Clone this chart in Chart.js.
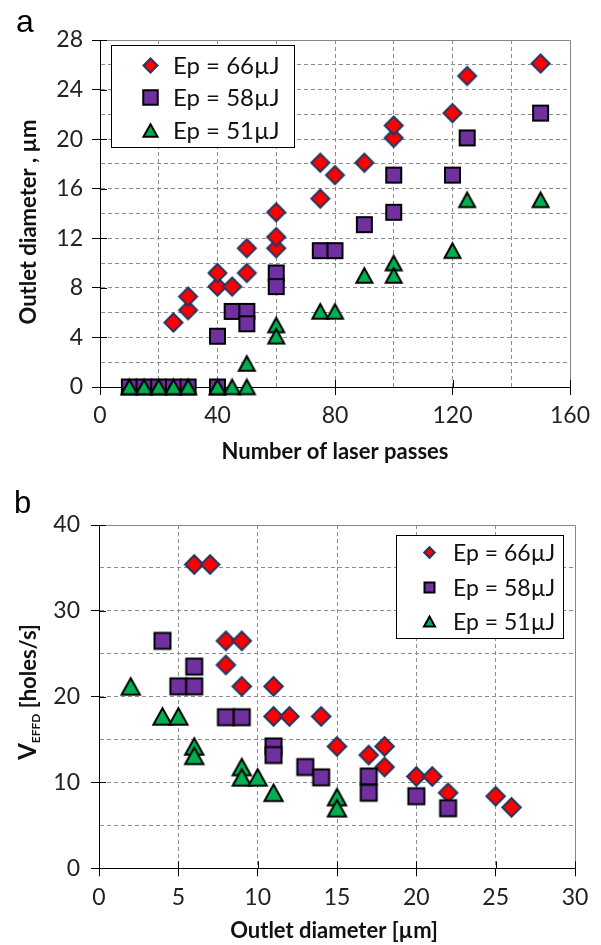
<!DOCTYPE html>
<html><head><meta charset="utf-8">
<script src="https://cdn.jsdelivr.net/npm/chart.js@4.4.1/dist/chart.umd.min.js"></script>
<style>
html,body{margin:0;padding:0;background:#fff;}
body{width:601px;height:945px;position:relative;overflow:hidden;}
.box{position:absolute;left:0;width:601px;}
#boxA{top:0;height:470px;}
#boxB{top:470px;height:475px;}
</style></head><body>
<div class="box" id="boxA"><canvas id="cA"></canvas></div>
<div class="box" id="boxB"><canvas id="cB"></canvas></div>
<script>
// ---------- data (panel a: outlet diameter vs number of laser passes) ----------
const seriesNames = ['Ep = 66µJ', 'Ep = 58µJ', 'Ep = 51µJ'];
const aX66 = [25,30,30,40,40,45,50,50,60,60,60,75,75,80,90,100,100,120,125,150];
const aY66 = [5.2,6.2,7.3,8.1,9.2,8.1,9.2,11.2,11.2,12.1,14.1,15.2,18.1,17.1,18.1,20.1,21.1,22.1,25.1,26.1];
const aX58 = [10,15,20,25,30,40,40,45,50,50,60,60,75,80,90,100,100,120,125,150];
const aY58 = [0,0,0,0,0,0,4.1,6.1,6.1,5.1,9.2,8.1,11,11,13.1,17.1,14.1,17.1,20.1,22.1];
const aX51 = [10,15,20,25,30,40,45,50,50,60,60,75,80,90,100,100,120,125,150];
const aY51 = [0,0,0,0,0,0,0,0,1.9,5,4.1,6.1,6.1,9,10,9,11,15.1,15.1];
const aXTicks = [0,40,80,120,160];
const aYTicks = [0,4,8,12,16,20,24,28];

// ---------- data (panel b: V_EFFD vs outlet diameter) ----------
const bX66 = [6,7,8,9,8,9,11,11,12,14,15,17,18,18,20,21,22,25,26];
const bY66 = [35.4,35.4,26.5,26.5,23.7,21.2,21.2,17.7,17.7,17.7,14.2,13.2,14.2,11.8,10.7,10.7,8.8,8.4,7.1];
const bX58 = [4,6,5,6,8,9,11,11,13,14,17,17,20,22];
const bY58 = [26.5,23.5,21.2,21.2,17.6,17.6,14.2,13.2,11.8,10.6,10.7,8.8,8.4,7.0];
const bX51 = [2,4,5,6,6,9,9,10,11,15,15];
const bY51 = [21.2,17.7,17.7,14.2,13.1,11.8,10.6,10.6,8.8,8.3,7.0];
const bXTicks = [0,5,10,15,20,25,30];
const bYTicks = [0,10,20,30,40];

const pts = (xs, ys) => xs.map((v, i) => ({x: v, y: ys[i]}));

// ---------- marker images ----------
function marker(kind, s, th, fill, stroke) {
  const pad = 4, S = (Math.ceil(s + 2 * pad)) | 1;
  const c = document.createElement('canvas'); c.width = S; c.height = S;
  const g = c.getContext('2d'); const m = S / 2, h = s / 2;
  g.beginPath();
  if (kind === 'd') { g.moveTo(m, m - h); g.lineTo(m + h, m); g.lineTo(m, m + h); g.lineTo(m - h, m); }
  else if (kind === 's') { g.rect(m - h, m - h, s, s); }
  else { g.moveTo(m, m - th / 2); g.lineTo(m + h, m + th / 2); g.lineTo(m - h, m + th / 2); }
  g.closePath();
  g.fillStyle = fill; g.fill();
  g.lineWidth = 2; g.lineJoin = 'miter'; g.strokeStyle = stroke; g.stroke();
  return c;
}
const RED = '#FF0000', PUR = '#7030A0', GRN = '#00B050', NAVY = '#1F3864', BLK = '#000000';
const mA = [marker('d', 18, 0, RED, NAVY), marker('s', 15, 0, PUR, BLK), marker('t', 16, 14.7, GRN, BLK)];
const mB = [marker('d', 18.5, 0, RED, NAVY), marker('s', 16, 0, PUR, BLK), marker('t', 18.3, 16.5, GRN, BLK)];
const lA = [marker('d', 14, 0, RED, NAVY), marker('s', 14.5, 0, PUR, BLK), marker('t', 14, 12.5, GRN, BLK)];
const lB = [marker('d', 10.5, 0, RED, NAVY), marker('s', 10, 0, PUR, BLK), marker('t', 11, 10, GRN, BLK)];

// ---------- decoration plugin: frame, crossing ticks, legend, titles ----------
const deco = {
  id: 'deco',
  beforeDatasetsDraw(chart, _a, o) {
    const {ctx, chartArea: a} = chart; const xs = chart.scales.x, ys = chart.scales.y;
    ctx.save();
    ctx.lineWidth = 1;
    ctx.strokeStyle = '#868686';
    const T = Math.round(a.top) + 0.5, R = Math.round(a.right) + 0.5;
    ctx.beginPath(); ctx.moveTo(a.left, T); ctx.lineTo(R, T); ctx.lineTo(R, a.bottom); ctx.stroke();
    ctx.strokeStyle = '#000';
    ctx.beginPath();
    o.xMajor.forEach(v => { const p = Math.round(xs.getPixelForValue(v)) + 0.5; ctx.moveTo(p, a.bottom); ctx.lineTo(p, a.bottom - 7); });
    o.yMajor.forEach(v => { const p = Math.round(ys.getPixelForValue(v)) + 0.5; ctx.moveTo(a.left, p); ctx.lineTo(a.left + 7, p); });
    ctx.stroke();
    ctx.restore();
  },
  afterDraw(chart, _a, o) {
    const ctx = chart.ctx; ctx.save();
    const L = o.legend;
    ctx.fillStyle = '#fff'; ctx.fillRect(L.x, L.y, L.w, L.h);
    ctx.strokeStyle = '#000'; ctx.lineWidth = 1; ctx.strokeRect(L.x, L.y, L.w, L.h);
    ctx.font = L.font; ctx.fillStyle = '#111'; ctx.textBaseline = 'middle'; ctx.textAlign = 'left';
    L.imgs.forEach((img, i) => {
      const cy = L.rows[i];
      ctx.drawImage(img, Math.round(L.mx - img.width / 2), Math.round(cy - img.height / 2));
      ctx.fillText(seriesNames[i], L.tx, cy + 1);
    });
    o.titles.forEach(t => {
      ctx.save();
      ctx.translate(t.x, t.y); ctx.rotate(t.rot * Math.PI / 180);
      ctx.textBaseline = 'alphabetic'; ctx.textAlign = 'left'; ctx.fillStyle = t.color || '#111';
      let w = 0; t.parts.forEach(p => { ctx.font = p.f; w += ctx.measureText(p.t).width; });
      let x = t.align === 'left' ? 0 : -w / 2;
      t.parts.forEach(p => { ctx.font = p.f; ctx.fillText(p.t, x, p.dy || 0); x += ctx.measureText(p.t).width; });
      ctx.restore();
    });
    ctx.restore();
  }
};

const TICKFONT = {family: 'Lato', size: 23};
const TICKCOL = '#222';
const GRIDCOL = '#8c8c8c';
const TF = 'bold 22px Lato';

function axis(min, max, step, major, size, pad, isX) {
  return {
    type: 'linear', min, max,
    afterFit: s => { if (isX) s.height = size; else s.width = size; },
    ticks: {stepSize: step, autoSkip: false, maxRotation: 0, color: TICKCOL, font: TICKFONT, padding: pad,
      callback: v => major.includes(v) ? String(v) : ''},
    grid: {
      color: c => (c.tick && c.tick.value > min && c.tick.value < max) ? GRIDCOL : 'rgba(0,0,0,0)',
      lineWidth: 1, tickLength: 8,
      tickColor: c => (c.tick && major.includes(c.tick.value)) ? '#000' : 'rgba(0,0,0,0)'
    },
    border: {display: true, color: '#000', width: 1, dash: [4, 3]}
  };
}

function ds(data, img, ord) {
  return {data, pointStyle: img, pointRadius: 10, pointHoverRadius: 10, showLine: false, order: ord, clip: false};
}

Chart.defaults.font.family = 'Lato';

new Chart(document.getElementById('cA'), {
  type: 'scatter',
  data: {datasets: [
    Object.assign(ds(pts(aX66, aY66), mA[0], 2), {label: seriesNames[0]}),
    Object.assign(ds(pts(aX58, aY58), mA[1], 1), {label: seriesNames[1]}),
    Object.assign(ds(pts(aX51, aY51), mA[2], 0), {label: seriesNames[2]})
  ]},
  options: {
    responsive: true, maintainAspectRatio: false, animation: false, devicePixelRatio: 1, events: [],
    layout: {padding: {top: 40, right: 31, left: 0, bottom: 0}},
    scales: {
      x: axis(0, 160, 20, aXTicks, 83, 7, true),
      y: axis(0, 28, 2, aYTicks, 100, 9, false)
    },
    plugins: {
      legend: {display: false}, tooltip: {enabled: false},
      deco: {
        xMajor: aXTicks, yMajor: aYTicks,
        legend: {x: 111.5, y: 45.5, w: 183, h: 102, mx: 150, tx: 173, rows: [65, 97, 130], imgs: lA, font: '24px Lato'},
        titles: [
          {parts: [{t: 'Number of laser passes', f: TF}], x: 335, y: 459, rot: 0},
          {parts: [{t: 'Outlet diameter , µm', f: TF}], x: 36, y: 222, rot: -90},
          {parts: [{t: 'a', f: '32px "Liberation Sans"'}], x: 16, y: 32, rot: 0, align: 'left', color: '#000'}
        ]
      }
    }
  },
  plugins: [deco]
});

new Chart(document.getElementById('cB'), {
  type: 'scatter',
  data: {datasets: [
    Object.assign(ds(pts(bX66, bY66), mB[0], 2), {label: seriesNames[0]}),
    Object.assign(ds(pts(bX58, bY58), mB[1], 1), {label: seriesNames[1]}),
    Object.assign(ds(pts(bX51, bY51), mB[2], 0), {label: seriesNames[2]})
  ]},
  options: {
    responsive: true, maintainAspectRatio: false, animation: false, devicePixelRatio: 1, events: [],
    layout: {padding: {top: 55, right: 26, left: 0, bottom: 0}},
    scales: {
      x: axis(0, 30, 5, bXTicks, 76.7, 7, true),
      y: axis(0, 40, 5, bYTicks, 99, 11, false)
    },
    plugins: {
      legend: {display: false}, tooltip: {enabled: false},
      deco: {
        xMajor: bXTicks, yMajor: bYTicks,
        legend: {x: 396.5, y: 65.5, w: 167, h: 103, mx: 429, tx: 453, rows: [82.3, 117.3, 151.7], imgs: lB, font: '23px Lato'},
        titles: [
          {parts: [{t: 'Outlet diameter [µm]', f: TF}], x: 334, y: 468, rot: 0},
          {parts: [{t: 'V', f: 'bold 24px Lato'}, {t: 'EFFD', f: 'bold 12px Lato', dy: 4}, {t: ' [holes/s]', f: TF}], x: 36, y: 222, rot: -90},
          {parts: [{t: 'b', f: '31px "Liberation Sans"'}], x: 14, y: 43, rot: 0, align: 'left', color: '#000'}
        ]
      }
    }
  },
  plugins: [deco]
});
</script></body></html>
